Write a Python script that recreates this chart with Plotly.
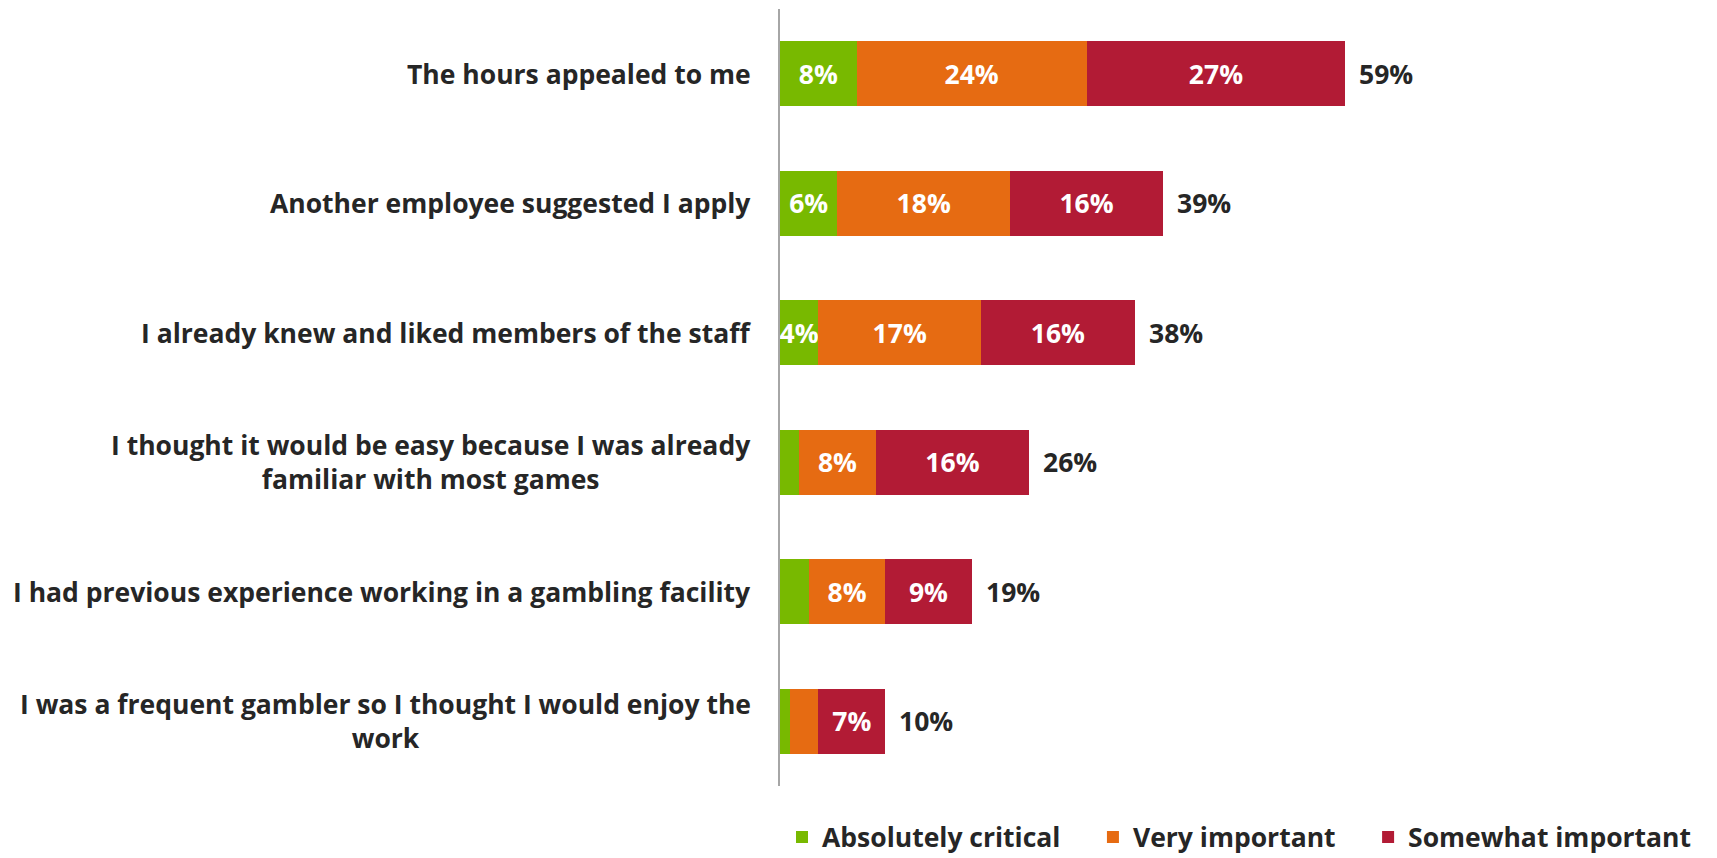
import plotly.graph_objects as go

# Survey reasons, listed top to bottom
reasons = [
    "The hours appealed to me",
    "Another employee suggested I apply",
    "I already knew and liked members of the staff",
    "I thought it would be easy because I was already<br>familiar with most games",
    "I had previous experience working in a gambling facility",
    "I was a frequent gambler so I thought I would enjoy the<br>work",
]
absolutely_critical = [8, 6, 4, 2, 3, 1]
very_important = [24, 18, 17, 8, 8, 3]
somewhat_important = [27, 16, 16, 16, 9, 7]
totals = [59, 39, 38, 26, 19, 10]

series = [
    ("Absolutely critical", absolutely_critical, "#78b900"),
    ("Very important", very_important, "#e66b12"),
    ("Somewhat important", somewhat_important, "#b21b35"),
]

FONT = "Open Sans"
DARK = "#262626"
SIZE = 26.5
PAD = "\u00a0" * 4  # spacing after a legend entry

fig = go.Figure()
for i, (name, vals, color) in enumerate(series):
    labels = [f"{v}%" if v >= 4 else "" for v in vals]
    fig.add_trace(go.Bar(
        name=name + (PAD if i < len(series) - 1 else ""),
        y=reasons,
        x=vals,
        orientation="h",
        marker=dict(color=color, line=dict(width=0)),
        text=labels,
        textposition="inside",
        insidetextanchor="middle",
        constraintext="none",
        textangle=0,
        textfont=dict(family=FONT, size=SIZE, color="white", weight="bold"),
        hoverinfo="skip",
    ))

# Category labels, centred per line, to the left of the axis
for r in reasons:
    fig.add_annotation(
        x=0, xref="paper", y=r, yref="y",
        xanchor="right", yanchor="middle", align="center",
        xshift=-27, text=r, showarrow=False,
        font=dict(family=FONT, size=SIZE, color=DARK, weight="bold"),
    )

# Total percentage at the end of each bar
for r, a, b, c, t in zip(reasons, absolutely_critical, very_important, somewhat_important, totals):
    fig.add_annotation(
        x=a + b + c, y=r, xref="x", yref="y",
        xanchor="left", yanchor="middle", xshift=12,
        text=f"{t}%", showarrow=False,
        font=dict(family=FONT, size=SIZE, color=DARK, weight="bold"),
    )

fig.update_layout(
    barmode="stack",
    bargap=0.5,
    width=1717, height=858,
    margin=dict(l=780, r=20, t=9, b=72, autoexpand=False),
    plot_bgcolor="white",
    paper_bgcolor="white",
    showlegend=True,
    legend=dict(
        orientation="h",
        x=1.0, xanchor="right",
        y=-0.066, yanchor="middle",
        font=dict(family=FONT, size=SIZE, color=DARK, weight="bold"),
        traceorder="normal",
        itemwidth=30,
    ),
    xaxis=dict(range=[0, 95.7], visible=False, fixedrange=True),
    yaxis=dict(
        autorange="reversed",
        showticklabels=False,
        ticks="",
        showline=True, linecolor="#a6a6a6", linewidth=2,
        showgrid=False, zeroline=False,
        fixedrange=True,
    ),
)

fig.write_html("out.html")
